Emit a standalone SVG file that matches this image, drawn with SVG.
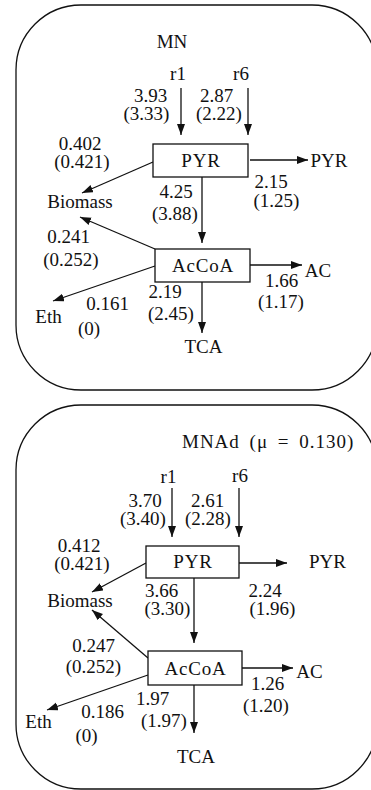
<svg xmlns="http://www.w3.org/2000/svg" width="371" height="790" viewBox="0 0 371 790">
<style>
text{font-family:"Liberation Serif","Times New Roman",serif;font-size:19px;fill:#111;text-anchor:middle}
.frame{fill:none;stroke:#111;stroke-width:1.3}
.node rect{fill:#fff;stroke:#111;stroke-width:1.3}
.node text{letter-spacing:0.8px}
.conn line{stroke:#111;stroke-width:1.3;marker-end:url(#ah)}
</style>
<defs>
<marker id="ah" markerUnits="userSpaceOnUse" markerWidth="12" markerHeight="9" refX="11" refY="4" orient="auto">
<path d="M0,0 L11,4 L0,8 z" fill="#111"/>
</marker>
</defs>
<rect id="panel-mn" class="frame" x="16" y="5" width="361" height="385" rx="65"/>
<rect id="panel-mnad" class="frame" x="16" y="405" width="361" height="384" rx="65"/>

<g id="connectors">
<g class="conn">
<line x1="181" y1="88" x2="181" y2="135"/>
<line x1="248" y1="88" x2="248" y2="135"/>
<line x1="250" y1="160" x2="308" y2="160"/>
<line x1="153" y1="162" x2="82" y2="193"/>
<line x1="202" y1="177" x2="202" y2="243"/>
<line x1="155" y1="249" x2="80" y2="217"/>
<line x1="250" y1="265" x2="302" y2="265"/>
<line x1="155" y1="266" x2="53" y2="301"/>
<line x1="202" y1="282" x2="202" y2="333"/>

<line x1="172" y1="488" x2="172" y2="537"/>
<line x1="239" y1="488" x2="239" y2="537"/>
<line x1="239" y1="563" x2="287" y2="563"/>
<line x1="146" y1="563" x2="92" y2="592"/>
<line x1="194" y1="578" x2="194" y2="643"/>
<line x1="148" y1="658" x2="92" y2="610"/>
<line x1="242" y1="668" x2="293" y2="668"/>
<line x1="148" y1="675" x2="47" y2="710"/>
<line x1="194" y1="685" x2="194" y2="733"/>
</g>
</g>

<g id="mn-title"><text x="172" y="48">MN</text></g>
<g id="mn-r1"><text x="178" y="80">r1</text></g>
<g id="mn-r6"><text x="241" y="80">r6</text></g>
<g id="mn-pyr" class="node"><rect x="153" y="144" width="95" height="33"/><text x="201" y="167">PYR</text></g>
<g id="mn-accoa" class="node"><rect x="155" y="249" width="95" height="33"/><text x="203" y="272">AcCoA</text></g>
<g id="mn-pyr-out"><text x="329" y="167">PYR</text></g>
<g id="mn-biomass"><text x="80" y="208">Biomass</text></g>
<g id="mn-ac"><text x="318" y="277">AC</text></g>
<g id="mn-eth"><text x="48.5" y="323">Eth</text></g>
<g id="mn-tca"><text x="203.5" y="353">TCA</text></g>
<g id="mn-labels">
<text x="150.5" y="102">3.93<tspan x="146.5" y="120">(3.33)</tspan></text>
<text x="216.5" y="102">2.87<tspan x="219" y="120">(2.22)</tspan></text>
<text x="80" y="150">0.402<tspan x="82" y="168">(0.421)</tspan></text>
<text x="271" y="188">2.15<tspan x="276.5" y="207">(1.25)</tspan></text>
<text x="176" y="198">4.25<tspan x="175" y="220">(3.88)</tspan></text>
<text x="68.5" y="243">0.241<tspan x="71" y="266">(0.252)</tspan></text>
<text x="281.5" y="287">1.66<tspan x="281" y="308">(1.17)</tspan></text>
<text x="107.5" y="310">0.161<tspan x="89" y="335">(0)</tspan></text>
<text x="165" y="298">2.19<tspan x="171" y="320">(2.45)</tspan></text>
</g>

<g id="mnad-title"><text x="182" y="448" style="text-anchor:start;letter-spacing:1px;word-spacing:4px">MNAd (μ = 0.130)</text></g>
<g id="mnad-r1"><text x="168.5" y="483">r1</text></g>
<g id="mnad-r6"><text x="240" y="482">r6</text></g>
<g id="mnad-pyr" class="node"><rect x="146" y="546" width="93" height="32"/><text x="193" y="568">PYR</text></g>
<g id="mnad-accoa" class="node"><rect x="148" y="651" width="94" height="34"/><text x="195.5" y="675">AcCoA</text></g>
<g id="mnad-pyr-out"><text x="327.5" y="568">PYR</text></g>
<g id="mnad-biomass"><text x="80" y="607">Biomass</text></g>
<g id="mnad-ac"><text x="309.5" y="678">AC</text></g>
<g id="mnad-eth"><text x="38.5" y="728">Eth</text></g>
<g id="mnad-tca"><text x="196" y="763">TCA</text></g>
<g id="mnad-labels">
<text x="145" y="507">3.70<tspan x="143" y="525">(3.40)</tspan></text>
<text x="207.5" y="507">2.61<tspan x="208" y="525">(2.28)</tspan></text>
<text x="79" y="552">0.412<tspan x="82" y="570">(0.421)</tspan></text>
<text x="161.5" y="597">3.66<tspan x="167.5" y="615">(3.30)</tspan></text>
<text x="265" y="597">2.24<tspan x="272.5" y="615">(1.96)</tspan></text>
<text x="93.5" y="652">0.247<tspan x="93.5" y="673">(0.252)</tspan></text>
<text x="267.5" y="690">1.26<tspan x="266" y="712">(1.20)</tspan></text>
<text x="102.5" y="718">0.186<tspan x="86.5" y="742">(0)</tspan></text>
<text x="152.5" y="705">1.97<tspan x="164" y="727">(1.97)</tspan></text>
</g>
</svg>
